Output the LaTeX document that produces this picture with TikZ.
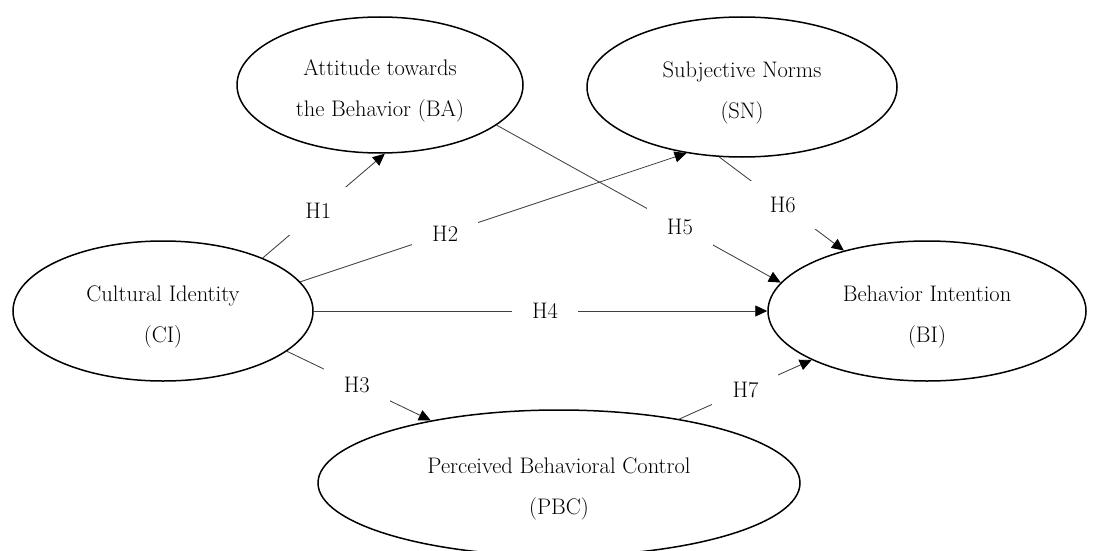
\documentclass[tikz,border=0pt]{standalone}
\usetikzlibrary{shapes.geometric,arrows.meta}
\newcommand{\topstrut}{\rule{0pt}{28pt}}
\tikzset{
  latent/.style={ellipse, draw=black, line width=1.5pt, inner sep=0pt, align=center,
    font=\fontsize{22.5}{40.5}\selectfont},
  conn/.style={draw=black!75, line width=0.85pt,
    -{Triangle[length=12pt,width=11pt,color=black]}},
  hyp/.style={fill=white, inner sep=0pt, minimum width=66pt, minimum height=48pt,
    text=black, font=\fontsize{22.5}{26}\selectfont},
}
\begin{document}
\begin{tikzpicture}[x=1pt,y=-1pt]
\useasboundingbox (0,0) rectangle (1094,551);
\node[latent, minimum width=286pt, minimum height=136pt] (BA) at (380,85) {\topstrut Attitude towards\\the Behavior (BA)};
\node[latent, minimum width=310pt, minimum height=140pt] (SN) at (742,87) {\topstrut Subjective Norms\\(SN)};
\node[latent, minimum width=300pt, minimum height=140pt] (CI) at (163,311) {\topstrut Cultural Identity\\(CI)};
\node[latent, minimum width=318pt, minimum height=140pt] (BI) at (927,311) {\topstrut Behavior Intention\\(BI)};
\node[latent, minimum width=482pt, minimum height=146pt] (PBC) at (559,483) {\topstrut Perceived Behavioral Control\\(PBC)};

\draw[conn] (CI.28.8) -- node[hyp, pos=0.455] {H1} (BA.274.2);
\draw[conn] (CI.12.2) -- node[hyp, pos=0.375] {H2} (SN.230.3);
\draw[conn] (CI.342.9) -- node[hyp, pos=0.485] {H3} (PBC.154.6);
\draw[conn] (CI.0) -- node[hyp, pos=0.51] {H4} (BI.180);
\draw[conn] (BA.341.7) -- node[hyp, pos=0.645] {H5} (BI.169.4);
\draw[conn] (SN.252.8) -- node[hyp, pos=0.51] {H6} (BI.144.5);
\draw[conn] (PBC.28.2) -- node[hyp, pos=0.5] {H7} (BI.203.9);
\end{tikzpicture}
\end{document}
